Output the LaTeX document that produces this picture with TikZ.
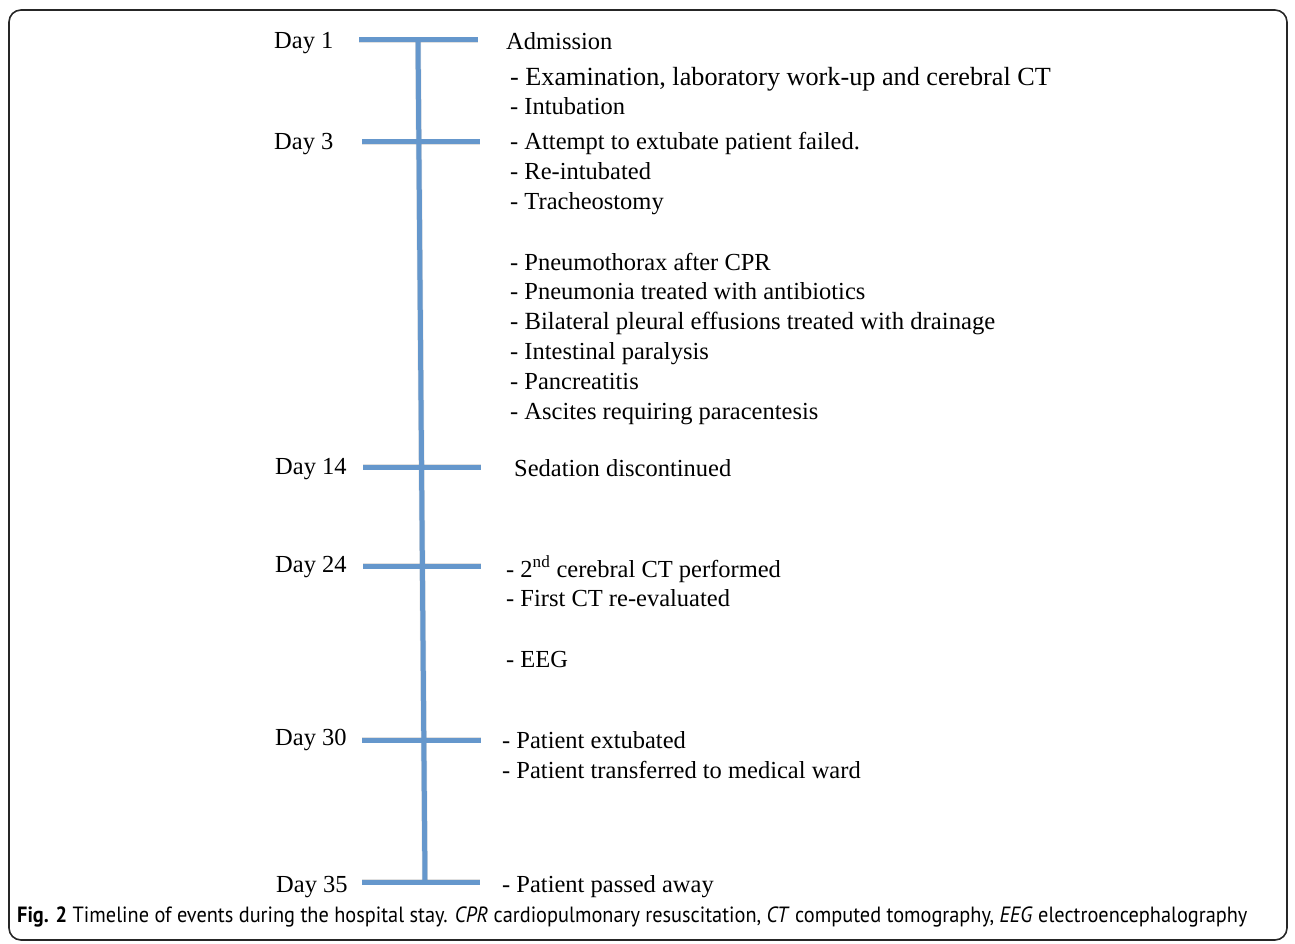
\documentclass[tikz,border=0pt]{standalone}
\usepackage{fontspec}
\setmainfont{Liberation Serif}
\newfontfamily\capfont{PT Sans}
\definecolor{tlblue}{RGB}{101,151,204}
\begin{document}
\begin{tikzpicture}[x=1pt,y=-1pt,
  tl/.style={line width=5pt,tlblue},
  tlshadow/.style={line width=6pt,black,opacity=0.12},
  day/.style={anchor=base west,inner sep=0pt,font=\fontsize{24.5}{30}\selectfont},
  ev/.style={anchor=base west,inner sep=0pt,font=\fontsize{24.5}{30}\selectfont}]
\useasboundingbox (0,0) rectangle (1295,944);
\draw[line width=1.6pt,black!85,rounded corners=12pt] (9,10) rectangle (1287,940);
% timeline coordinates
\coordinate (top) at (418,40);
\coordinate (bot) at (425,882);
\foreach \n/\y/\l/\r in {a/40/359/478, b/142/362/480, c/467/363/481, d/566/363/481, e/740/362/481, f/882/362/480}{
  \coordinate (\n L) at (\l,\y);
  \coordinate (\n R) at (\r,\y);
}
% shadows
\begin{scope}[shift={(1.5,2)}]
\draw[tlshadow] (top) -- (bot);
\foreach \n in {a,b,c,d,e,f}{\draw[tlshadow] (\n L) -- (\n R);}
\end{scope}
\draw[tl] (top) -- (bot);
\foreach \n in {a,b,c,d,e,f}{\draw[tl] (\n L) -- (\n R);}
% day labels
\node[day] (d1) at (274,49) {Day 1};
\node[day] (d3) at (274,150) {Day 3};
\node[day] (d14) at (275,474) {Day 14};
\node[day] (d24) at (275,572) {Day 24};
\node[day] (d30) at (275,745) {Day 30};
\node[day] (d35) at (276,892) {Day 35};
% events
\node[ev] (e1) at (506,50) {Admission};
\node[ev,font=\fontsize{26.2}{30}\selectfont] (e2) at (510,86) {- Examination, laboratory work-up and cerebral CT};
\node[ev] (e3) at (510,115) {- Intubation};
\node[ev] (e4) at (510,150) {- Attempt to extubate patient failed.};
\node[ev] (e5) at (510,180) {- Re-intubated};
\node[ev] (e6) at (510,210) {- Tracheostomy};
\node[ev] (e7) at (510,270) {- Pneumothorax after CPR};
\node[ev] (e8) at (510,299) {- Pneumonia treated with antibiotics};
\node[ev,font=\fontsize{24.7}{30}\selectfont] (e9) at (510,329) {- Bilateral pleural effusions treated with drainage};
\node[ev] (e10) at (510,359) {- Intestinal paralysis};
\node[ev] (e11) at (510,389) {- Pancreatitis};
\node[ev] (e12) at (510,419) {- Ascites requiring paracentesis};
\node[ev] (e13) at (514,476) {Sedation discontinued};
\node[ev] (e14) at (506,577) {- 2\textsuperscript{nd} cerebral CT performed};
\node[ev] (e15) at (506,606) {- First CT re-evaluated};
\node[ev] (e16) at (506,667) {- EEG};
\node[ev] (e17) at (502,748) {- Patient extubated};
\node[ev] (e18) at (502,778) {- Patient transferred to medical ward};
\node[ev] (e19) at (502,892) {- Patient passed away};
% caption
\node[anchor=base west,inner sep=0pt,font=\capfont\fontsize{21}{24}\selectfont] (cap) at (17,922)
 {\scalebox{0.968}[1.05]{\textbf{Fig. 2} Timeline of events during the hospital stay. \textit{CPR} cardiopulmonary resuscitation, \textit{CT} computed tomography, \textit{EEG} electroencephalography}};
\end{tikzpicture}
\end{document}
